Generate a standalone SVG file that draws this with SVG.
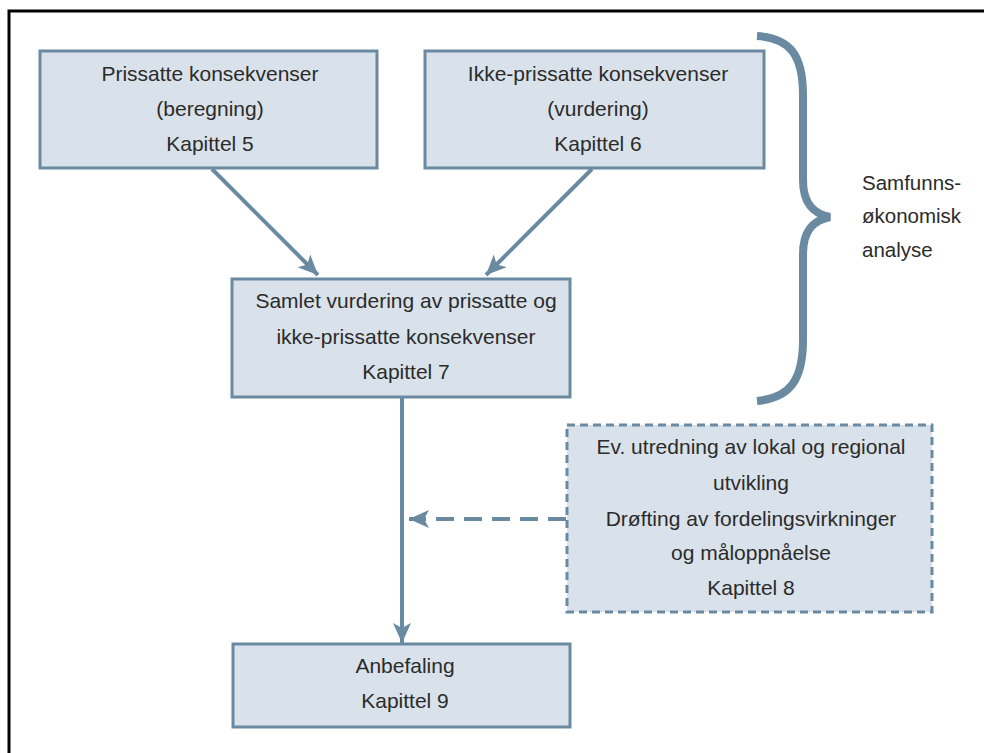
<svg xmlns="http://www.w3.org/2000/svg" width="984" height="753" viewBox="0 0 984 753">
<style>
.box{fill:#d9e2ea;stroke:#6a8aa2;stroke-width:3}
.dbox{fill:#d9e2ea;stroke:#6a8aa2;stroke-width:3;stroke-dasharray:8,5}
.t{font-family:"Liberation Sans",Arial,sans-serif;font-size:21px;fill:#2b2b2b;text-anchor:middle}
.tl{font-family:"Liberation Sans",Arial,sans-serif;font-size:20.5px;fill:#2b2b2b}
.c{stroke:#6a8aa2;stroke-width:4;fill:none}
</style>
<defs>
<marker id="ah" markerUnits="userSpaceOnUse" markerWidth="24" markerHeight="20" refX="20" refY="9" orient="auto">
<path d="M0,0 L20,9 L0,18 L5,9 z" fill="#6a8aa2"/>
</marker>
</defs>
<rect width="984" height="753" fill="#fff"/>
<path d="M9,753 V11 H984" fill="none" stroke="#000" stroke-width="3"/>
<g id="n1">
<rect class="box" x="40" y="51" width="337" height="117"/>
<text class="t" x="210" y="81">Prissatte konsekvenser</text>
<text class="t" x="210" y="116">(beregning)</text>
<text class="t" x="210" y="151">Kapittel 5</text>
</g>
<g id="n2">
<rect class="box" x="425" y="51" width="339" height="117"/>
<text class="t" x="598" y="81">Ikke-prissatte konsekvenser</text>
<text class="t" x="598" y="116">(vurdering)</text>
<text class="t" x="598" y="151">Kapittel 6</text>
</g>
<g id="n3">
<rect class="box" x="232" y="279" width="338" height="118"/>
<text class="t" x="406" y="308">Samlet vurdering av prissatte og</text>
<text class="t" x="406" y="344">ikke-prissatte konsekvenser</text>
<text class="t" x="406" y="379">Kapittel 7</text>
</g>
<g id="n4">
<rect class="dbox" x="567" y="425" width="365" height="187"/>
<text class="t" x="751" y="454">Ev. utredning av lokal og regional</text>
<text class="t" x="751" y="490">utvikling</text>
<text class="t" x="751" y="526">Drøfting av fordelingsvirkninger</text>
<text class="t" x="751" y="560">og måloppnåelse</text>
<text class="t" x="751" y="595">Kapittel 8</text>
</g>
<g id="n5">
<rect class="box" x="233" y="644" width="337" height="83"/>
<text class="t" x="405" y="673">Anbefaling</text>
<text class="t" x="405" y="708">Kapittel 9</text>
</g>
<g id="brace">
<path d="M757,36 C790,38 803,55 803,95 V180 C803,205 815,214 830,217 C815,220 803,229 803,254 V340 C803,380 790,398 757,401" fill="none" stroke="#6a8aa2" stroke-width="8"/>
<text class="tl" x="862" y="190">Samfunns-</text>
<text class="tl" x="862" y="223">økonomisk</text>
<text class="tl" x="862" y="257">analyse</text>
</g>
<g id="connectors">
<line class="c" x1="212" y1="169" x2="318" y2="275" marker-end="url(#ah)"/>
<line class="c" x1="592" y1="169" x2="486" y2="275" marker-end="url(#ah)"/>
<line class="c" x1="402" y1="397" x2="402" y2="643" marker-end="url(#ah)"/>
<line class="c" x1="566" y1="519" x2="409" y2="519" stroke-width="5" stroke-dasharray="18,10" marker-end="url(#ah)"/>
</g>
</svg>
